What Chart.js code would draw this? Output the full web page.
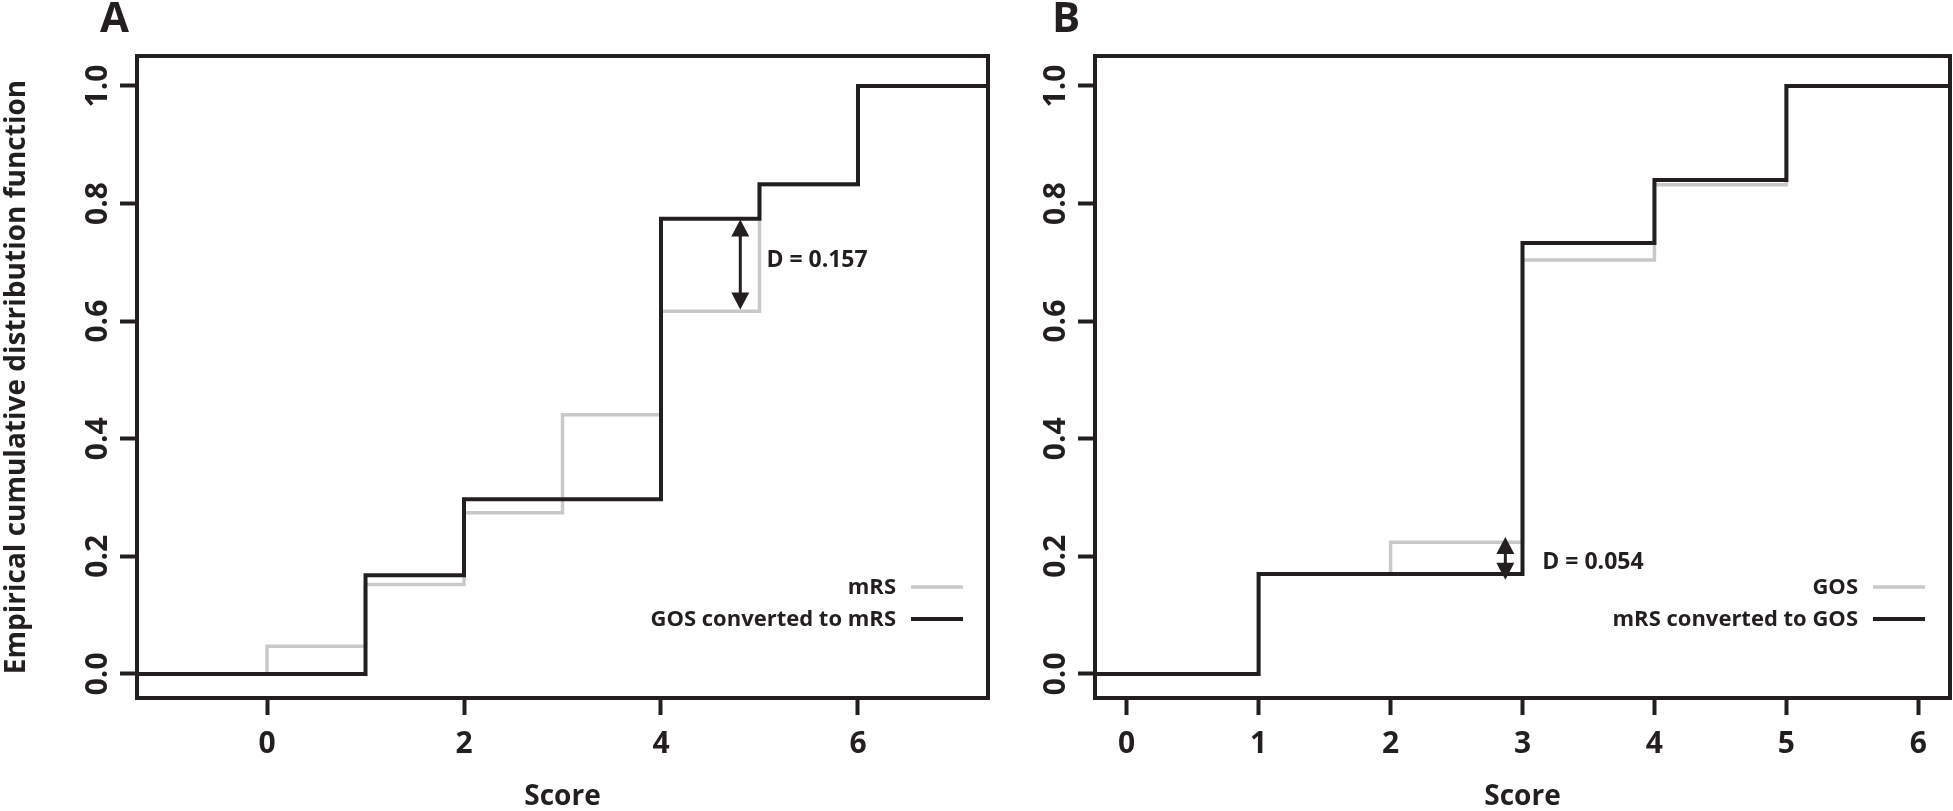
<!DOCTYPE html>
<html>
<head>
<meta charset="utf-8">
<script src="https://cdn.jsdelivr.net/npm/chart.js@4.4.1/dist/chart.umd.min.js"></script>
<style>
  body { margin: 0; background: #fff; width: 1953px; height: 811px; overflow: hidden; position: relative; }
  .panel { position: absolute; top: 0; }
  .tag { position: absolute; top: -5px; font: 700 42px/42px "Open Sans", sans-serif; color: #231f20; }
</style>
</head>
<body>
<div class="panel" style="left:0"><canvas id="chartA" width="1000" height="811"></canvas></div>
<div class="panel" style="left:1000px"><canvas id="chartB" width="953" height="811"></canvas></div>
<div class="tag" style="left:100px">A</div>
<div class="tag" style="left:1052px">B</div>
<script>
// axes
const xTicksA = [0, 2, 4, 6];
const xTicksB = [0, 1, 2, 3, 4, 5, 6];
const yTicks = [0, 0.2, 0.4, 0.6, 0.8, 1.0];
const xRangeA = [-1.32, 7.32];
const xRangeB = [-0.24, 6.24];
const yRange = [-0.041, 1.051];

// panel A: ecdf jumps
const scoresA = [0, 1, 2, 3, 4, 5, 6];
const mrsA = [0.047, 0.152, 0.274, 0.441, 0.617, 0.832, 1.0];
const gosToMrsA = [0, 0.168, 0.297, 0.297, 0.774, 0.833, 1.0];

// panel B
const scoresB = [1, 2, 3, 4, 5];
const gosB = [0.170, 0.224, 0.704, 0.832, 1.0];
const mrsToGosB = [0.170, 0.170, 0.733, 0.840, 1.0];

const labelsA = ['mRS', 'GOS converted to mRS'];
const labelsB = ['GOS', 'mRS converted to GOS'];

// KS distance notes (arrow ends, label spot)
const noteA = { x: 4.805, from: 0.62, to: 0.773, text: 'D = 0.157', tx: 5.07, ty: 0.703 };
const noteB = { x: 2.87, from: 0.160, to: 0.233, text: 'D = 0.054', tx: 3.15, ty: 0.189 };

const ink = '#231f20';
const grey = '#c9c9c9';
const face = '"Open Sans", sans-serif';

// turn jump values into step points reaching the plot edges
function steps(xs, ys, range) {
  const pts = [{ x: range[0], y: 0 }];
  xs.forEach((x, i) => pts.push({ x: x, y: ys[i] }));
  pts.push({ x: range[1], y: ys[ys.length - 1] });
  return pts;
}

const frame = {
  id: 'frame',
  afterDatasetsDraw(chart) {
    const { ctx, chartArea: a } = chart;
    ctx.save();
    ctx.strokeStyle = ink;
    ctx.lineWidth = 4;
    ctx.strokeRect(a.left, a.top, a.right - a.left, a.bottom - a.top);
    ctx.restore();
  }
};

// legend like R: text right aligned, line sample after it
const keyBox = {
  id: 'keyBox',
  afterDatasetsDraw(chart) {
    const { ctx, chartArea: a } = chart;
    ctx.save();
    ctx.font = 'bold 22px ' + face;
    ctx.textAlign = 'right';
    ctx.textBaseline = 'middle';
    chart.data.datasets.forEach((ds, i) => {
      const y = a.bottom - 111 + i * 32;
      ctx.fillStyle = ink;
      ctx.fillText(ds.label, a.right - 92, y + 1);
      ctx.strokeStyle = ds.borderColor;
      ctx.lineWidth = ds.borderWidth;
      ctx.beginPath();
      ctx.moveTo(a.right - 77, y);
      ctx.lineTo(a.right - 25, y);
      ctx.stroke();
    });
    ctx.restore();
  }
};

const dNote = {
  id: 'dNote',
  afterDatasetsDraw(chart, args, opts) {
    if (!opts || opts.x === undefined) return;
    const { ctx, scales: { x, y } } = chart;
    const px = x.getPixelForValue(opts.x);
    const yLo = y.getPixelForValue(opts.from);
    const yHi = y.getPixelForValue(opts.to);
    const head = 17, half = 9;
    ctx.save();
    ctx.strokeStyle = ink;
    ctx.fillStyle = ink;
    ctx.lineWidth = 3;
    ctx.beginPath();
    ctx.moveTo(px, yHi + 4);
    ctx.lineTo(px, yLo - 4);
    ctx.stroke();
    ctx.beginPath();
    ctx.moveTo(px, yHi);
    ctx.lineTo(px - half, yHi + head);
    ctx.lineTo(px + half, yHi + head);
    ctx.closePath();
    ctx.fill();
    ctx.beginPath();
    ctx.moveTo(px, yLo);
    ctx.lineTo(px - half, yLo - head);
    ctx.lineTo(px + half, yLo - head);
    ctx.closePath();
    ctx.fill();
    ctx.font = 'bold 23px ' + face;
    ctx.textAlign = 'left';
    ctx.textBaseline = 'middle';
    ctx.fillText(opts.text, x.getPixelForValue(opts.tx), y.getPixelForValue(opts.ty));
    ctx.restore();
  }
};

function makeChart(id, cfg) {
  const tickFont = { family: face, size: 30, weight: 'bold' };
  return new Chart(document.getElementById(id), {
    type: 'line',
    data: {
      datasets: [
        {
          label: cfg.labels[0],
          data: steps(cfg.scores, cfg.grey, cfg.xRange),
          borderColor: grey,
          borderWidth: 3.5,
          stepped: 'before',
          pointRadius: 0,
          fill: false,
          borderJoinStyle: 'miter',
          order: 2
        },
        {
          label: cfg.labels[1],
          data: steps(cfg.scores, cfg.black, cfg.xRange),
          borderColor: ink,
          borderWidth: 4,
          stepped: 'before',
          pointRadius: 0,
          fill: false,
          borderJoinStyle: 'miter',
          order: 1
        }
      ]
    },
    options: {
      responsive: false,
      animation: false,
      devicePixelRatio: 1,
      layout: { padding: { top: 56, right: cfg.padRight, left: 0, bottom: 0 } },
      plugins: {
        legend: { display: false },
        tooltip: { enabled: false },
        dNote: cfg.note
      },
      scales: {
        x: {
          type: 'linear',
          min: cfg.xRange[0],
          max: cfg.xRange[1],
          afterBuildTicks: s => { s.ticks = cfg.xTicks.map(v => ({ value: v })); },
          afterFit: s => { s.height = 113; },
          border: { display: false },
          grid: { drawOnChartArea: false, drawTicks: true, tickLength: 17, tickWidth: 4, tickColor: ink },
          ticks: { color: ink, font: tickFont, padding: 11, maxRotation: 0, autoSkip: false, callback: v => String(v) },
          title: { display: true, text: 'Score', color: ink, font: { family: face, size: 28, weight: 'bold', lineHeight: 1 }, padding: 0 }
        },
        y: {
          type: 'linear',
          min: yRange[0],
          max: yRange[1],
          afterBuildTicks: s => { s.ticks = yTicks.map(v => ({ value: v })); },
          afterFit: s => { s.width = cfg.yWidth; },
          border: { display: false },
          grid: { drawOnChartArea: false, drawTicks: true, tickLength: 17, tickWidth: 4, tickColor: ink },
          ticks: { color: ink, font: tickFont, padding: 0, minRotation: 90, maxRotation: 90, crossAlign: 'center', autoSkip: false, callback: v => v.toFixed(1) },
          title: {
            display: cfg.yTitle,
            text: 'Empirical cumulative distribution function',
            color: ink,
            font: { family: face, size: 28, weight: 'bold' },
            padding: { top: 0, bottom: 0 }
          }
        }
      }
    },
    plugins: [frame, keyBox, dNote]
  });
}

makeChart('chartA', {
  labels: labelsA, scores: scoresA, grey: mrsA, black: gosToMrsA,
  xRange: xRangeA, xTicks: xTicksA, note: noteA, yWidth: 137, padRight: 12, yTitle: true
});
makeChart('chartB', {
  labels: labelsB, scores: scoresB, grey: gosB, black: mrsToGosB,
  xRange: xRangeB, xTicks: xTicksB, note: noteB, yWidth: 95, padRight: 3, yTitle: false
});
</script>
</body>
</html>
